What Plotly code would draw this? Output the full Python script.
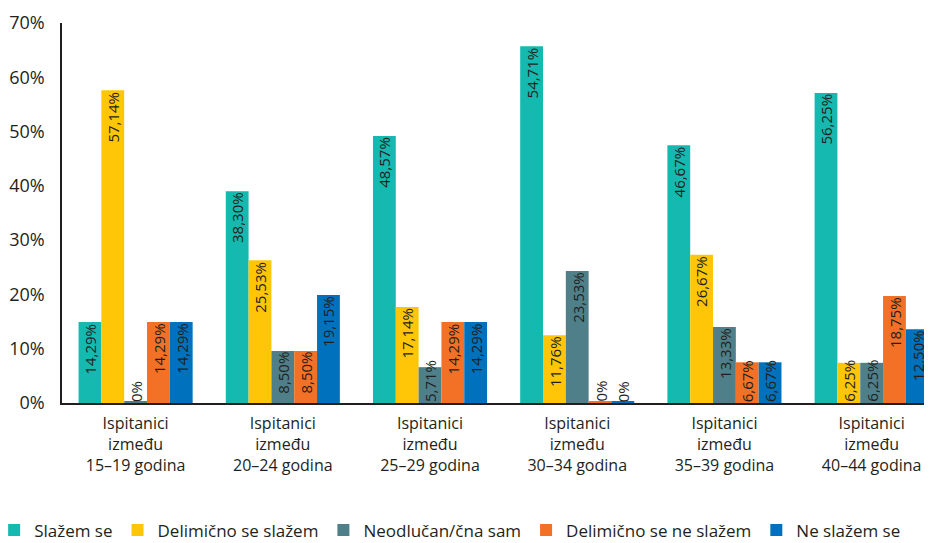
import plotly.graph_objects as go

categories = [
    "Ispitanici<br>između<br>15–19 godina",
    "Ispitanici<br>između<br>20–24 godina",
    "Ispitanici<br>između<br>25–29 godina",
    "Ispitanici<br>između<br>30–34 godina",
    "Ispitanici<br>između<br>35–39 godina",
    "Ispitanici<br>između<br>40–44 godina",
]
series_names = ["Slažem se", "Delimično se slažem", "Neodlučan/čna sam",
                "Delimično se ne slažem", "Ne slažem se"]

# bar heights as drawn in the picture (percent)
slazem_se = [14.9, 39.0, 49.2, 65.7, 47.5, 57.1]
delimicno_slazem = [57.6, 26.3, 17.7, 12.5, 27.3, 7.4]
neodlucan = [0.3, 9.6, 6.6, 24.3, 14.0, 7.4]
delimicno_ne_slazem = [14.9, 9.6, 14.9, 0.3, 7.5, 19.7]
ne_slazem = [14.9, 19.9, 14.9, 0.3, 7.5, 13.6]

# printed labels
lbl_slazem_se = ["14,29%", "38,30%", "48,57%", "54,71%", "46,67%", "56,25%"]
lbl_delimicno_slazem = ["57,14%", "25,53%", "17,14%", "11,76%", "26,67%", "6,25%"]
lbl_neodlucan = ["0%", "8,50%", "5,71%", "23,53%", "13,33%", "6,25%"]
lbl_delimicno_ne_slazem = ["14,29%", "8,50%", "14,29%", "0%", "6,67%", "18,75%"]
lbl_ne_slazem = ["14,29%", "19,15%", "14,29%", "0%", "6,67%", "12,50%"]

y_ticks = [0, 10, 20, 30, 40, 50, 60, 70]
y_ticktext = ["0%", "10%", "20%", "30%", "40%", "50%", "60%", "70%"]

colors = ["#15B9AF", "#FFC608", "#4F8089", "#F27127", "#0071BC"]
values = [slazem_se, delimicno_slazem, neodlucan, delimicno_ne_slazem, ne_slazem]
labels = [lbl_slazem_se, lbl_delimicno_slazem, lbl_neodlucan,
          lbl_delimicno_ne_slazem, lbl_ne_slazem]

FONT = "Open Sans, Noto Sans, sans-serif"
TXT = "#231F20"
bargap = 0.225
n = len(series_names)
bw = (1 - bargap) / n

fig = go.Figure()
for name, vals, col in zip(series_names, values, colors):
    fig.add_trace(go.Bar(x=categories, y=vals, name=name, marker_color=col,
                         marker_line_width=0))

annotations = []
for i, (vals, lbls) in enumerate(zip(values, labels)):
    for k, (v, t) in enumerate(zip(vals, lbls)):
        xc = k - (1 - bargap) / 2 + bw * (i + 0.5)
        fits = v >= 9.0
        annotations.append(dict(
            x=xc, y=v if fits else 0, xref="x", yref="y",
            text=t, textangle=-90, showarrow=False,
            yanchor="top" if fits else "bottom", xanchor="center",
            font=dict(family=FONT, size=15, color=TXT),
            borderpad=0,
        ))

# page body has an 8px default margin, so the figure is sized to fit the window
fig.update_layout(
    width=924, height=535,
    margin=dict(l=54, r=0, t=15, b=140, autoexpand=False),
    plot_bgcolor="white", paper_bgcolor="white",
    barmode="group", bargap=bargap, bargroupgap=0,
    font=dict(family=FONT, size=16, color=TXT),
    showlegend=True,
    legend=dict(orientation="h", x=-0.078, xanchor="left", y=-0.288, yanchor="top",
                font=dict(family=FONT, size=17, color=TXT),
                itemwidth=30, tracegroupgap=0, traceorder="normal"),
    annotations=annotations,
)
fig.update_xaxes(range=[-0.5, 5.41], showline=True, linecolor="#231F20", linewidth=1.5,
                 ticks="", showgrid=False, zeroline=False, automargin=False,
                 tickfont=dict(family=FONT, size=16, color=TXT),
                 ticklabelstandoff=5)
fig.update_yaxes(range=[0, 70], tickvals=y_ticks, ticktext=y_ticktext,
                 showline=True, linecolor="#231F20", linewidth=1.5,
                 ticks="", showgrid=False, zeroline=False, automargin=False,
                 tickfont=dict(family=FONT, size=18, color=TXT),
                 ticklabelstandoff=12)

fig.write_html("out.html")
